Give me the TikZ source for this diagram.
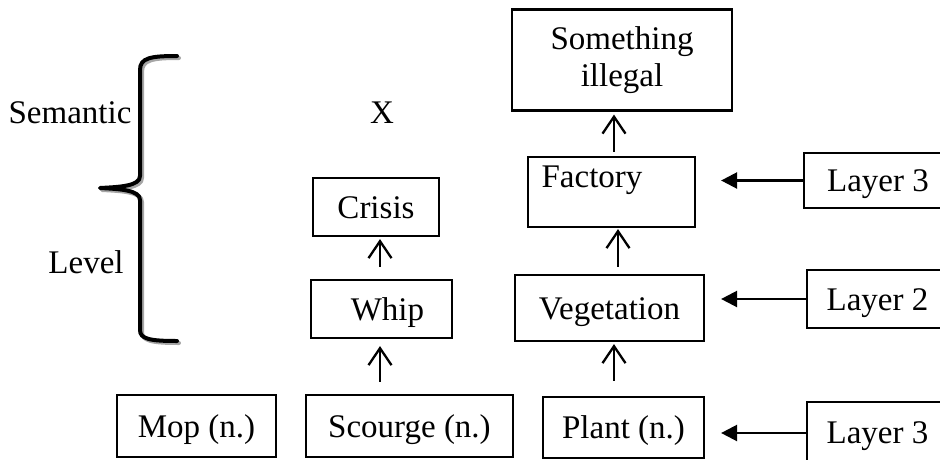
\documentclass[tikz,border=0pt]{standalone}
\usepackage{fontspec}
\setmainfont{Liberation Serif}
\usetikzlibrary{arrows.meta}
\begin{document}
\begin{tikzpicture}[x=1pt,y=-1pt,
  box/.style={draw,line width=2.2pt,inner sep=0pt,font=\fontsize{33}{37}\selectfont,align=center},
  one/.style={text height=22pt,text depth=0pt},
  txt/.style={inner sep=0pt,font=\fontsize{33}{37}\selectfont},
  uparrow/.style={-{Straight Barb[length=17pt,width=23pt]}, line width=2.3pt},
  leftarrow/.style={-{Triangle[length=16pt,width=16pt]}, line width=2.4pt},
  bracepath/.style={line width=4pt,line cap=round,line join=round}
]
\useasboundingbox (0,0) rectangle (940,459);
\clip (0,0) rectangle (940,459);

% brace with shadow
\begin{scope}[shift={(2,2)}]
\draw[bracepath,gray!70] (177,56) .. controls (150,56) and (140,58) .. (140,70) -- (140,176)
  .. controls (140,186) and (120,187) .. (100,188)
  .. controls (120,189) and (140,190) .. (140,200) -- (140,330)
  .. controls (140,339) and (150,341) .. (177,341);
\end{scope}
\draw[bracepath] (177,56) .. controls (150,56) and (140,58) .. (140,70) -- (140,176)
  .. controls (140,186) and (120,187) .. (100,188)
  .. controls (120,189) and (140,190) .. (140,200) -- (140,330)
  .. controls (140,339) and (150,341) .. (177,341);

\node[txt] (sem) at (70,113) {Semantic};
\node[txt] (lev) at (86,262) {Level};
\node[txt] (x) at (382,113) {X};

\node[box,one,minimum width=159pt,minimum height=62pt] (mop) at (196.5,426) {Mop (n.)};
\node[box,one,minimum width=207pt,minimum height=62pt] (scourge) at (409.5,426) {Scourge (n.)};
\node[box,one,minimum width=161pt,minimum height=61pt] (plant) at (623.5,427.5) {Plant (n.)};
\node[box,one,minimum width=141pt,minimum height=58pt] (whip) at (381.5,309) {\hspace{12pt}Whip};
\node[box,one,minimum width=126pt,minimum height=58pt] (crisis) at (376,207) {Crisis};
\node[box,one,minimum width=189pt,minimum height=66pt] (veg) at (609.5,308) {Vegetation};
\node[box,text height=22pt,text depth=31pt,minimum width=167pt,minimum height=70pt] (factory) at (611.5,192) {Factory\hspace{39pt}};
\node[box,minimum width=220pt,minimum height=101pt] (illegal) at (622,60) {Something\\illegal};
\node[box,one,minimum width=148pt,minimum height=55pt] (l3a) at (878,180.5) {Layer 3};
\node[box,one,minimum width=141pt,minimum height=58pt] (l2) at (877.5,299) {Layer 2};
\node[box,one,minimum width=141pt,minimum height=60pt] (l3b) at (877.5,432) {Layer 3};

\draw[uparrow,shorten <=12pt,shorten >=7pt] ([xshift=-1.5pt]whip.south |- scourge.north) -- ([xshift=-1.5pt]whip.south);
\draw[uparrow,shorten <=12pt,shorten >=2pt] ([xshift=-1.5pt]whip.north) -- ([xshift=4pt]crisis.south);
\draw[uparrow,shorten <=15pt,shorten >=2pt] ([xshift=-9.5pt]plant.north) -- ([xshift=4.5pt]veg.south);
\draw[uparrow,shorten <=7pt,shorten >=1pt] ([xshift=8.5pt]veg.north) -- ([xshift=6.5pt]factory.south);
\draw[uparrow,shorten <=4pt,shorten >=3pt] ([xshift=2.5pt]factory.north) -- ([xshift=-8pt]illegal.south);

\draw[leftarrow,shorten >=25pt] (l3a.west) -- (l3a.west -| factory.east);
\draw[leftarrow,shorten >=16pt] (l2.west) -- (l2.west -| veg.east);
\draw[leftarrow,shorten >=16pt] ([yshift=-1pt]l3b.west) -- ([yshift=-1pt]l3b.west -| plant.east);
\end{tikzpicture}
\end{document}
